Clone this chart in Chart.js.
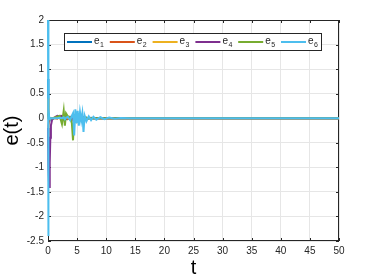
<!DOCTYPE html>
<html>
<head>
<meta charset="utf-8">
<script src="https://cdn.jsdelivr.net/npm/chart.js@4.4.1/dist/chart.umd.min.js"></script>
<style>
  html, body { margin: 0; padding: 0; background: #fff; }
  #wrap { width: 374px; height: 280px; }
</style>
</head>
<body>
<div id="wrap"><canvas id="grafico" width="374" height="280"></canvas></div>
<script>
// tempo (s)
const tempo = [0, 0.05, 0.1, 0.2, 0.3, 0.4, 0.5, 0.7, 1.0, 1.3,
               1.6, 2.0, 2.4, 2.7, 2.9, 3.1, 3.4, 3.8, 4.1, 4.3,
               4.5, 4.7, 4.9, 5.1, 5.3, 5.5, 5.7, 5.9, 6.1, 6.3,
               6.6, 7.0, 7.4, 7.8, 8.3, 9.0, 9.7, 10.5, 11.5, 12.5,
               14, 16, 20, 30, 40, 50];

const e1 = [0.8, 0.3, 0.1, 0.02, 0, 0, 0, 0, 0, 0.01,
            0.02, 0.01, 0, 0.02, 0.03, -0.02, 0.01, 0, -0.03, 0.02,
            0.04, -0.03, 0.02, -0.02, 0.03, -0.02, 0.01, -0.01, 0.02, -0.01,
            0.01, -0.01, 0.01, 0, 0, 0, 0, 0, 0, 0,
            0, 0, 0, 0, 0, 0];
const e2 = [-0.6, -0.4, -0.15, -0.04, -0.01, 0, 0, 0, 0.01, 0,
            -0.01, 0.02, 0, -0.03, 0.02, 0.03, -0.02, 0.01, 0.02, -0.04,
            0.03, -0.02, 0.04, -0.03, 0.02, -0.02, 0.02, -0.01, 0.01, 0,
            -0.01, 0.01, 0, 0, 0, 0, 0, 0, 0, 0,
            0, 0, 0, 0, 0, 0];
const e3 = [0.4, 0.2, 0.05, 0.01, 0, 0, 0, 0, 0, 0,
            0.01, 0, 0.02, 0.01, -0.02, 0.02, 0, 0.01, -0.02, 0.03,
            -0.02, 0.02, -0.03, 0.02, -0.01, 0.02, -0.01, 0.01, 0, 0.01,
            0, 0, 0, 0, 0, 0, 0, 0, 0, 0,
            0, 0, 0, 0, 0, 0];
const e4 = [-0.2, -0.6, -1.0, -1.4, -0.9, -0.4, -0.15, -0.03, 0, 0.03,
            0.05, 0.04, 0.05, 0.02, 0.03, 0.05, 0.02, 0.03, -0.02, 0.04,
            -0.03, 0.02, 0.03, -0.02, 0.02, -0.01, 0.01, 0.02, -0.01, 0.01,
            0, 0.01, 0, 0, 0, 0, 0, 0, 0, 0,
            0, 0, 0, 0, 0, 0];
const e5 = [0.1, 0.05, 0, 0, 0, 0, 0, 0, 0, 0.02,
            0.03, 0.05, -0.12, 0.15, -0.15, 0.1, 0.04, 0.02, -0.1, -0.45,
            0.05, 0.02, -0.05, 0.03, 0.02, -0.03, 0.02, -0.02, 0.01, -0.01,
            0.01, 0, 0, 0, 0, 0, 0, 0, 0, 0,
            0, 0, 0, 0, 0, 0];
const e6 = [2.0, -2.4, 0.2, 0.02, 0, 0, 0, 0, 0, 0,
            0, 0.01, 0, 0.02, -0.02, 0.01, 0.03, -0.04, 0.05, 0.1,
            -0.35, 0.18, -0.1, 0.15, -0.15, 0.12, -0.05, 0.1, -0.28, 0.05,
            -0.06, 0.04, -0.04, 0.03, -0.03, 0.02, -0.02, 0.015, -0.01, 0.005,
            0, 0, 0, 0, 0, 0];

const series = [e1, e2, e3, e4, e5, e6];
const nomes = ["1", "2", "3", "4", "5", "6"];
const cores = ["#0072BD", "#D95319", "#EDB120", "#7E2F8E", "#77AC30", "#4DBEEE"];

const FONTE = "'Liberation Sans', Arial, sans-serif";

/* ============================
   MOLDURA + LEGENDA (estilo MATLAB)
============================ */
const molduraPlugin = {
    id: "moldura",
    beforeDatasetsDraw(chart) {
        const ctx = chart.ctx;
        const a = chart.chartArea;
        const xs = chart.scales.x, ys = chart.scales.y;
        ctx.save();
        ctx.strokeStyle = "#262626";
        ctx.lineWidth = 1;
        ctx.strokeRect(a.left + 0.5, a.top + 0.5, a.right - a.left - 1, a.bottom - a.top - 1);
        // ticks internos
        ctx.beginPath();
        xs.ticks.forEach(t => {
            const px = Math.round(xs.getPixelForValue(t.value)) + 0.5;
            ctx.moveTo(px, a.bottom); ctx.lineTo(px, a.bottom - 3);
            ctx.moveTo(px, a.top); ctx.lineTo(px, a.top + 3);
        });
        ys.ticks.forEach(t => {
            const py = Math.round(ys.getPixelForValue(t.value)) + 0.5;
            ctx.moveTo(a.left, py); ctx.lineTo(a.left + 3, py);
            ctx.moveTo(a.right, py); ctx.lineTo(a.right - 3, py);
        });
        ctx.stroke();
        ctx.restore();
    },
    afterDraw(chart) {
        const ctx = chart.ctx;
        ctx.save();
        // legenda
        const bx = 64, by = 33, bw = 257, bh = 17;
        ctx.fillStyle = "#fff";
        ctx.fillRect(bx, by, bw, bh);
        ctx.strokeStyle = "#262626";
        ctx.lineWidth = 1;
        ctx.strokeRect(bx + 0.5, by + 0.5, bw, bh);
        const ly = by + bh / 2 + 0.5;
        chart.data.datasets.forEach((ds, i) => {
            const x0 = 67 + i * 42.8;
            ctx.strokeStyle = ds.borderColor;
            ctx.lineWidth = 2;
            ctx.beginPath();
            ctx.moveTo(x0, ly); ctx.lineTo(x0 + 25, ly);
            ctx.stroke();
            ctx.fillStyle = "#262626";
            ctx.textBaseline = "middle";
            ctx.textAlign = "left";
            ctx.font = "10px " + FONTE;
            ctx.fillText("e", x0 + 27, ly - 1);
            ctx.font = "7px " + FONTE;
            ctx.fillText(ds.label, x0 + 33, ly + 3);
        });
        ctx.restore();
    }
};

function gerarGrafico() {
    const ctx = document.getElementById("grafico").getContext("2d");
    new Chart(ctx, {
        type: "line",
        data: {
            datasets: series.map((s, i) => ({
                label: nomes[i],
                data: tempo.map((t, k) => ({ x: t, y: s[k] })),
                borderColor: cores[i],
                backgroundColor: cores[i],
                borderWidth: 2,
                pointRadius: 0,
                tension: 0,
                clip: { left: 4, top: 2, right: 0, bottom: 2 },
                order: series.length - i
            }))
        },
        options: {
            responsive: false,
            animation: false,
            layout: { padding: { top: 20, right: 35, left: 0, bottom: 0 } },
            plugins: { legend: { display: false }, tooltip: { enabled: false } },
            scales: {
                x: {
                    type: "linear", min: 0, max: 50,
                    afterFit: s => { s.height = 39; },
                    ticks: { stepSize: 5, color: "#262626", padding: 4,
                             font: { size: 10, family: FONTE } },
                    grid: { color: "#e6e6e6", drawTicks: false },
                    border: { display: false },
                    title: { display: true, text: "t", color: "#000", padding: { top: 0, bottom: 0 },
                             font: { size: 20, family: FONTE } }
                },
                y: {
                    min: -2.5, max: 2,
                    afterFit: s => { s.width = 48; },
                    ticks: { stepSize: 0.5, color: "#262626", padding: 4,
                             font: { size: 10, family: FONTE },
                             callback: v => String(Number(v.toFixed(1))) },
                    grid: { color: "#e6e6e6", drawTicks: false },
                    border: { display: false },
                    title: { display: true, text: "e(t)", color: "#000", padding: { top: 0, bottom: 0 },
                             font: { size: 20, family: FONTE } }
                }
            }
        },
        plugins: [molduraPlugin]
    });
}

document.addEventListener("DOMContentLoaded", gerarGrafico);
</script>
</body>
</html>
